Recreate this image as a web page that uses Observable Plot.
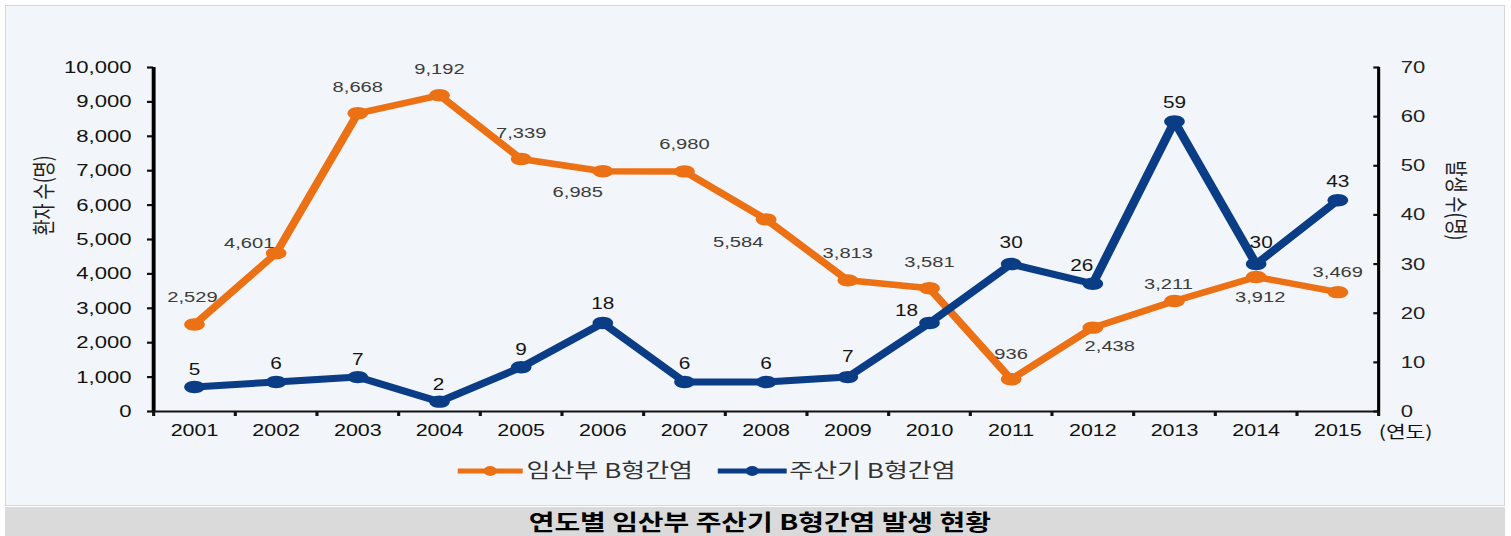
<!DOCTYPE html>
<html>
<head>
<meta charset="utf-8">
<script src="https://cdn.jsdelivr.net/npm/d3@7"></script>
<script src="https://cdn.jsdelivr.net/npm/@observablehq/plot@0.6"></script>
<style>
  html, body { margin: 0; padding: 0; background: #fff; }
  body { width: 1511px; height: 536px; overflow: hidden; position: relative;
         font-family: "Liberation Sans", Arial, "Noto Sans CJK KR", sans-serif; }
  #frame { position: absolute; left: 5px; top: 5px; width: 1500px; height: 501px;
           box-sizing: border-box; border: 1px solid #d6d6d6; background: #f2f6fa; }
  #band { position: absolute; left: 5px; top: 507px; width: 1500px; height: 29px;
          background: #dadada; text-align: center; }
  #band span { display: inline-block; transform: scaleX(1.3); transform-origin: 50% 0;
               font-family: "Noto Sans CJK KR", sans-serif; font-weight: bold; font-size: 21.5px;
               letter-spacing: 0px; line-height: 26px; height: 26px; margin-top: 1px; color: #000; margin-left: 10px; }
  #stretch { position: absolute; left: 0; top: 0; width: 1162px; height: 500px;
             transform: scaleX(1.3003); transform-origin: 0 0; }
  #stretch svg { position: absolute; left: 0; top: 0; overflow: visible; }
</style>
</head>
<body>
<div id="frame"></div>
<div id="stretch"></div>
<div id="band"><span>연도별 임산부 주산기 B형간염 발생 현황</span></div>
<script>
// ---- data ----
const years = [2001, 2002, 2003, 2004, 2005, 2006, 2007, 2008, 2009, 2010, 2011, 2012, 2013, 2014, 2015];
const pregnantCases = [2529, 4601, 8668, 9192, 7339, 6985, 6980, 5584, 3813, 3581, 936, 2438, 3211, 3912, 3469];
const perinatalCases = [5, 6, 7, 2, 9, 18, 6, 6, 7, 18, 30, 26, 59, 30, 43];
const leftTicks = [0, 1000, 2000, 3000, 4000, 5000, 6000, 7000, 8000, 9000, 10000];
const rightTicks = [0, 10, 20, 30, 40, 50, 60, 70];
const seriesNames = ["임산부 B형간염", "주산기 B형간염"];
const leftTitle = "환자 수(명)";
const rightTitle = "발생 수(명)";
const xUnit = "(연도)";

// ---- setup ----
const ORANGE = "#EC7014";
const BLUE = "#0B3D86";
const S = 1.3003;                 // horizontal stretch of the chart layer
const K = 10000 / 70;             // right axis -> left axis units

const orangeData = years.map((y, i) => ({year: y, v: pregnantCases[i]}));
const blueData = years.map((y, i) => ({year: y, v: perinatalCases[i] * K, raw: perinatalCases[i]}));

// label offsets in screen pixels [dx, dy]
const orangeOff = {2001:[-2,-27],2002:[-27,-10],2003:[0,-26],2004:[0,-26],2005:[0,-26],2006:[-25,21],2007:[0,-27],
  2008:[-28,23],2009:[0,-27],2010:[0,-26],2011:[0,-25],2012:[17,18],2013:[-6,-17],2014:[4,20],2015:[0,-20]};
const blueOff = {2001:[0,-17],2002:[0,-18],2003:[0,-17],2004:[-1,-17],2005:[0,-17],2006:[0,-19],2007:[0,-18],
  2008:[0,-18],2009:[0,-20],2010:[-23,-12],2011:[0,-21],2012:[-11,-18],2013:[0,-19],2014:[5,-21],2015:[0,-18]};

const ellipse = {
  draw(ctx, size) {
    const r = Math.sqrt(size / Math.PI), rx = r * 1.28, ry = r, k = 0.5523;
    ctx.moveTo(rx, 0);
    ctx.bezierCurveTo(rx, ry * k, rx * k, ry, 0, ry);
    ctx.bezierCurveTo(-rx * k, ry, -rx, ry * k, -rx, 0);
    ctx.bezierCurveTo(-rx, -ry * k, -rx * k, -ry, 0, -ry);
    ctx.bezierCurveTo(rx * k, -ry, rx, -ry * k, rx, 0);
    ctx.closePath();
  }
};

const labelMarks = [];
orangeData.forEach(d => {
  const [dx, dy] = orangeOff[d.year];
  labelMarks.push(Plot.text([d], {x: "year", y: "v", text: d => d3.format(",")(d.v),
    dx: dx / S, dy, fill: "#3c3c3c", fontSize: 15.5, lineAnchor: "middle"}));
});
blueData.forEach(d => {
  const [dx, dy] = blueOff[d.year];
  labelMarks.push(Plot.text([d], {x: "year", y: "v", text: d => String(d.raw),
    dx: dx / S, dy, fill: "#151515", fontSize: 16, lineAnchor: "middle"}));
});

const W = 1162;
const chart = Plot.plot({
  width: W,
  height: 450,
  marginLeft: 153 / S,
  marginRight: W - 1378 / S,
  marginTop: 67,
  marginBottom: 39,
  x: {type: "linear", domain: [2000.5, 2015.5]},
  y: {type: "linear", domain: [0, 10000]},
  style: {background: "transparent", color: "#111", fontFamily: "'Liberation Sans', Arial, 'Noto Sans CJK KR', sans-serif", fontSize: "17px"},
  marks: [
    Plot.axisY({ticks: leftTicks, tickSize: 4.6, tickPadding: 12.4, tickFormat: d3.format(","), strokeWidth: 2.2, fontSize: 17, label: null}),
    Plot.axisY({anchor: "right", ticks: rightTicks.map(v => v * K), tickSize: -4.6, tickPadding: 21.5,
      tickFormat: d => String(Math.round(d / K)), strokeWidth: 2.2, fontSize: 17, fill: "#222", label: null}),
    Plot.axisX({ticks: d3.range(2000.5, 2016, 1), tickSize: 5, tickFormat: () => "", strokeWidth: 2.4, label: null}),
    Plot.axisX({ticks: years, tickSize: 0, tickPadding: 13, tickFormat: d => String(d), fontSize: 16.5, label: null}),
    Plot.ruleY([0], {stroke: "#111", strokeWidth: 2.2}),
    Plot.ruleX([2000.5], {stroke: "#000", strokeWidth: 3}),
    Plot.ruleX([2015.5], {stroke: "#000", strokeWidth: 2.4}),
    Plot.text([xUnit], {x: 2015.5, y: 0, text: d => d, dy: 21, dx: 0, textAnchor: "start", fontSize: 16.5, fill: "#111",
      fontFamily: "'Noto Sans CJK KR', sans-serif", lineAnchor: "middle"}),
    Plot.text([leftTitle], {frameAnchor: "left", text: d => d, rotate: -90, dx: (44 - 153) / S, dy: -4, fontSize: 17.5,
      fill: "#222", fontFamily: "'Noto Sans CJK KR', sans-serif"}),
    Plot.text([rightTitle], {frameAnchor: "right", text: d => d, rotate: 90, dx: (1455 - 1378) / S, dy: 1, fontSize: 17.5,
      fill: "#222", fontFamily: "'Noto Sans CJK KR', sans-serif"}),
    Plot.line(orangeData, {x: "year", y: "v", stroke: ORANGE, strokeWidth: 6.5, strokeLinejoin: "round"}),
    Plot.line(blueData, {x: "year", y: "v", stroke: BLUE, strokeWidth: 7, strokeLinejoin: "round"}),
    Plot.dot(orangeData, {x: "year", y: "v", r: 6.2, fill: ORANGE, symbol: ellipse}),
    Plot.dot(blueData, {x: "year", y: "v", r: 6.2, fill: BLUE, symbol: ellipse}),
    ...labelMarks
  ]
});
const stretch = document.getElementById("stretch");
stretch.appendChild(chart);

// ---- legend ----
const ns = "http://www.w3.org/2000/svg";
const leg = document.createElementNS(ns, "svg");
leg.setAttribute("width", W);
leg.setAttribute("height", 40);
leg.style.top = "450px";
const items = [
  {name: seriesNames[0], color: ORANGE, x1: 352, x2: 402, tx: 405},
  {name: seriesNames[1], color: BLUE, x1: 552, x2: 605, tx: 607}
];
items.forEach(it => {
  const cy = 21;
  const line = document.createElementNS(ns, "line");
  line.setAttribute("x1", it.x1); line.setAttribute("x2", it.x2);
  line.setAttribute("y1", cy); line.setAttribute("y2", cy);
  line.setAttribute("stroke", it.color); line.setAttribute("stroke-width", 5);
  leg.appendChild(line);
  const c = document.createElementNS(ns, "ellipse");
  c.setAttribute("cx", (it.x1 + it.x2) / 2); c.setAttribute("cy", cy);
  c.setAttribute("rx", 5); c.setAttribute("ry", 5); c.setAttribute("fill", it.color);
  leg.appendChild(c);
  const t = document.createElementNS(ns, "text");
  t.setAttribute("x", it.tx); t.setAttribute("y", cy);
  t.setAttribute("dy", "0.35em");
  t.setAttribute("font-size", 20);
  t.setAttribute("fill", "#333");
  t.setAttribute("font-family", "'Noto Sans CJK KR', sans-serif");
  t.textContent = it.name;
  leg.appendChild(t);
});
stretch.appendChild(leg);
</script>
</body>
</html>
